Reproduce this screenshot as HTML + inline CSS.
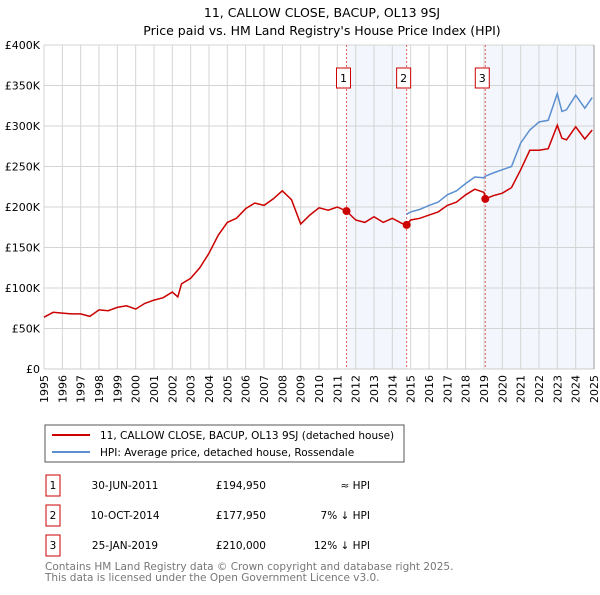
<!DOCTYPE html>
<html><head><meta charset="utf-8"><style>
body{margin:0;background:#fff;font-family:"Liberation Sans","DejaVu Sans",sans-serif;}
svg text{font-family:"DejaVu Sans","Liberation Sans",sans-serif;}
</style></head><body>
<svg width="600" height="590" viewBox="0 0 600 590">
<text x="322" y="17" text-anchor="middle" font-size="12.5">11, CALLOW CLOSE, BACUP, OL13 9SJ</text>
<text x="322" y="35" text-anchor="middle" font-size="12.5">Price paid vs. HM Land Registry's House Price Index (HPI)</text>
<g id="plot"></g>
<g id="legend">
<rect x="45" y="425" width="359" height="37" fill="#fff" stroke="#555"/>
<line x1="52" y1="435" x2="90" y2="435" stroke="#cc0000" stroke-width="2"/>
<text x="100" y="439" font-size="10.5">11, CALLOW CLOSE, BACUP, OL13 9SJ (detached house)</text>
<line x1="52" y1="452" x2="90" y2="452" stroke="#5b8fd0" stroke-width="2"/>
<text x="100" y="456" font-size="10.5">HPI: Average price, detached house, Rossendale</text>
</g>
<g id="table" font-size="10.5"></g>
<text x="45" y="570" font-size="10.5" fill="#777">Contains HM Land Registry data © Crown copyright and database right 2025.</text>
<text x="45" y="581" font-size="10.5" fill="#777">This data is licensed under the Open Government Licence v3.0.</text>
</svg>
<script>
const years=[1995,1995.5,1996,1996.5,1997,1997.5,1998,1998.5,1999,1999.5,2000,2000.5,2001,2001.5,2002,2002.3,2002.5,2003,2003.5,2004,2004.5,2005,2005.5,2006,2006.5,2007,2007.5,2008,2008.5,2009,2009.5,2010,2010.5,2011,2011.5,2012,2012.5,2013,2013.5,2014,2014.5,2014.78];
const redEarly=[64,70,69,68,68,65,73,72,76,78,74,81,85,88,95,89,105,112,125,143,165,181,186,198,205,202,210,220,209,179,190,199,196,200,194.95,184,181,188,181,186,180,177.95];
const hpiTimes=[2014.78,2015,2015.5,2016,2016.5,2017,2017.5,2018,2018.5,2019,2019.07,2019.5,2020,2020.5,2021,2021.5,2022,2022.5,2023,2023.25,2023.5,2024,2024.5,2024.9];
const hpiVals=[191,194,197,202,206,215,220,229,237,236,238,242,246,250,279,295,305,307,340,318,320,338,322,335];
const redLate=[177.95,184,186,190,194,202,206,215,222,218,210,214,217,224,246,270,270,272,301,285,283,299,284,295];
const sales=[{t:2011.5,v:194.95},{t:2014.78,v:177.95},{t:2019.07,v:210}];
const yTicks=[0,50,100,150,200,250,300,350,400];
const rows=[["1","30-JUN-2011","£194,950","≈ HPI"],["2","10-OCT-2014","£177,950","7% ↓ HPI"],["3","25-JAN-2019","£210,000","12% ↓ HPI"]];
const X0=44,X1=594,Y0=369,Y1=45;
const x=t=>X0+(t-1995)/30*(X1-X0);
const y=v=>Y0-v/400*(Y0-Y1);
const NS="http://www.w3.org/2000/svg";
const plot=document.getElementById('plot');
function mk(tag,a,p){const e=document.createElementNS(NS,tag);for(const k in a)e.setAttribute(k,a[k]);(p||plot).appendChild(e);return e;}
let s=mk('rect',{x:x(2011.5),y:Y1,width:x(2014.78)-x(2011.5),height:Y0-Y1,fill:'#f3f6fd'});


s=mk('rect',{x:x(2019.07),y:Y1,width:x(2025)-x(2019.07),height:Y0-Y1,fill:'#f3f6fd'});


for(let yr=1995;yr<=2025;yr++){
 const g=mk('line',{x1:x(yr),x2:x(yr),y1:Y1,y2:Y0,stroke:'#d4d4d4','stroke-width':1});
 
 
 const t=mk('text',{x:0,y:0,'font-size':11,'text-anchor':'end',transform:`translate(${x(yr)+4},${Y0+6}) rotate(-90)`});
 t.textContent=yr;
 
 
}
yTicks.forEach(v=>{
 const g=mk('line',{x1:X0,x2:X1,y1:y(v),y2:y(v),stroke:'#d4d4d4','stroke-width':1});
 
 
 const t=mk('text',{x:X0-4,y:y(v)+4,'font-size':11,'text-anchor':'end'});
 t.textContent=v===0?'£0':'£'+v+'K';
 
 
});
sales.forEach((sl,i)=>{
 const l=mk('line',{x1:x(sl.t),x2:x(sl.t),y1:Y1,y2:Y0,stroke:'#e06060','stroke-width':1,'stroke-dasharray':'2,2'});
 
 
 const r=mk('rect',{x:x(sl.t)-10,y:68,width:14,height:20,fill:'#fff',stroke:'#cc0000'});
 
 
 const t=mk('text',{x:x(sl.t)-3,y:82,'font-size':11,'text-anchor':'middle'});
 t.textContent=i+1;
 
 
});
function path(ts,vs){return ts.map((t,i)=>(i?'L':'M')+x(t).toFixed(1)+','+y(vs[i]).toFixed(1)).join('');}
let p=mk('path',{d:path(hpiTimes,hpiVals),fill:'none',stroke:'#5b8fd0','stroke-width':1.5});


p=mk('path',{d:path(years,redEarly)+path(hpiTimes,redLate).replace('M','L'),fill:'none',stroke:'#cc0000','stroke-width':1.5});


sales.forEach((sl,i)=>{
 const c=mk('circle',{cx:x(sl.t),cy:y(sl.v),r:4,fill:'#cc0000'});
 
 
});
mk('line',{x1:X0,x2:X1,y1:Y0,y2:Y0,stroke:'#ccc'});
mk('line',{x1:X1,x2:X1,y1:Y1,y2:Y0,stroke:'#999'});
const tb=document.getElementById('table');
rows.forEach((r,i)=>{
 const cy=485+i*30;
 const b=mk('rect',{x:46,y:cy-10,width:14,height:21,fill:'#fff',stroke:'#cc0000'},tb);
 
 
 const cells=[[53,'middle',r[0]],[125,'middle',r[1]],[266,'end',r[2]],[370,'end',r[3]]];
 cells.forEach(c=>{
  const t=mk('text',{x:c[0],y:cy+4,'text-anchor':c[1]},tb);
  t.textContent=c[2];
  
  
 });
});
</script>
</body></html>
